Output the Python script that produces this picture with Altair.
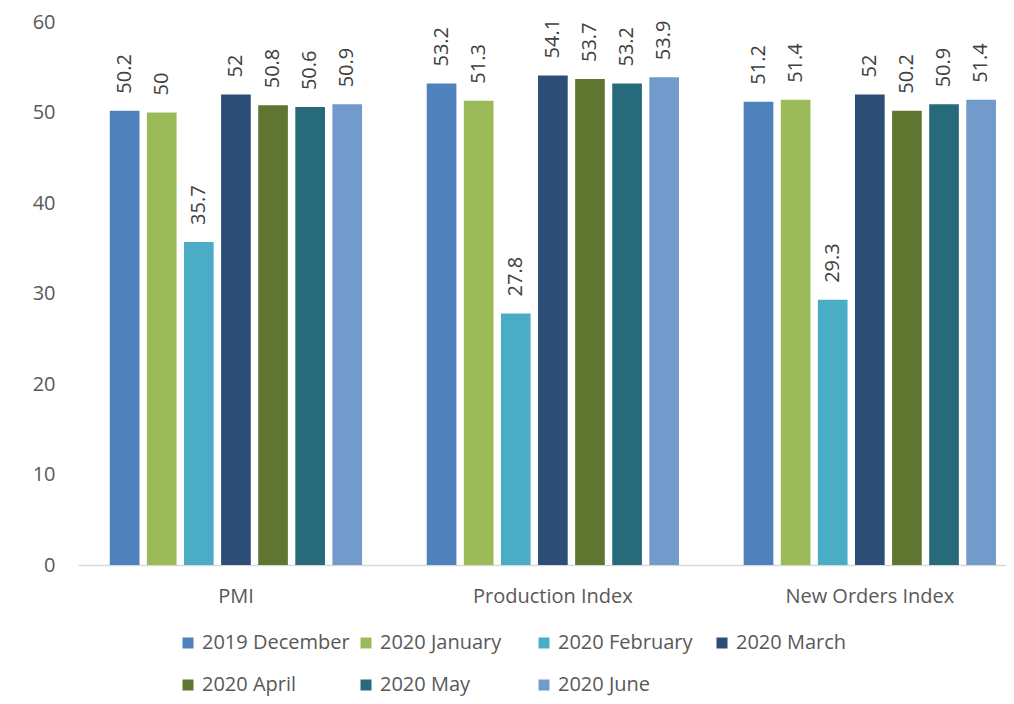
import altair as alt
import pandas as pd

categories = ["PMI", "Production Index", "New Orders Index"]
series = ["2019 December", "2020 January", "2020 February", "2020 March",
          "2020 April", "2020 May", "2020 June"]
colors = ["#4F81BD", "#9BBB59", "#4BACC6", "#2C4D75", "#5F7530", "#276A7C", "#729ACA"]

dec_2019 = [50.2, 53.2, 51.2]
jan_2020 = [50.0, 51.3, 51.4]
feb_2020 = [35.7, 27.8, 29.3]
mar_2020 = [52.0, 54.1, 52.0]
apr_2020 = [50.8, 53.7, 50.2]
may_2020 = [50.6, 53.2, 50.9]
jun_2020 = [50.9, 53.9, 51.4]

all_values = [dec_2019, jan_2020, feb_2020, mar_2020, apr_2020, may_2020, jun_2020]

rows = []
for s, vals in zip(series, all_values):
    for c, v in zip(categories, vals):
        rows.append({"category": c, "series": s, "value": v, "label": f"{v:g}"})
df = pd.DataFrame(rows)

FONT = "Open Sans"

x = alt.X("category:N", sort=categories,
          scale=alt.Scale(paddingInner=0.204, paddingOuter=0.066, align=0.76),
          axis=alt.Axis(title=None, labelAngle=0, ticks=False, domainColor="#d9d9d9",
                        domainWidth=1.5, labelFontSize=20, labelColor="#595959",
                        labelPadding=21, labelFont=FONT))
xo = alt.XOffset("series:N", sort=series, scale=alt.Scale(paddingInner=0.2, paddingOuter=0))
y = alt.Y("value:Q", scale=alt.Scale(domain=[0, 60]),
          axis=alt.Axis(title=None, values=[0, 10, 20, 30, 40, 50, 60], domain=False,
                        ticks=False, grid=False, labelPadding=23, labelFontSize=20,
                        labelColor="#595959", labelFont=FONT))

bars = alt.Chart(df).mark_bar().encode(
    x=x, xOffset=xo, y=y,
    color=alt.Color("series:N", sort=series,
                    scale=alt.Scale(domain=series, range=colors),
                    legend=alt.Legend(title=None, orient="none", legendX=100, legendY=611,
                                      columns=4, direction="horizontal", symbolType="square",
                                      symbolSize=121, labelFontSize=20, labelColor="#595959",
                                      labelFont=FONT, columnPadding=6, rowPadding=22,
                                      labelOffset=4, gridAlign="all", symbolStrokeWidth=0,
                                      padding=0)),
)

labels = alt.Chart(df).mark_text(angle=270, align="left", baseline="middle", dx=17,
                                 fontSize=20, color="#404040", font=FONT).encode(
    x=x, xOffset=xo, y=y, text="label:N"
)

chart = alt.layer(bars, labels).properties(
    width=928, height=543,
    autosize=alt.AutoSizeParams(type="none"),
    padding={"left": 70, "top": 14, "right": 0, "bottom": 137},
).configure_view(strokeWidth=0)

chart.save("out.html", embed_options={"renderer": "svg", "actions": False})
